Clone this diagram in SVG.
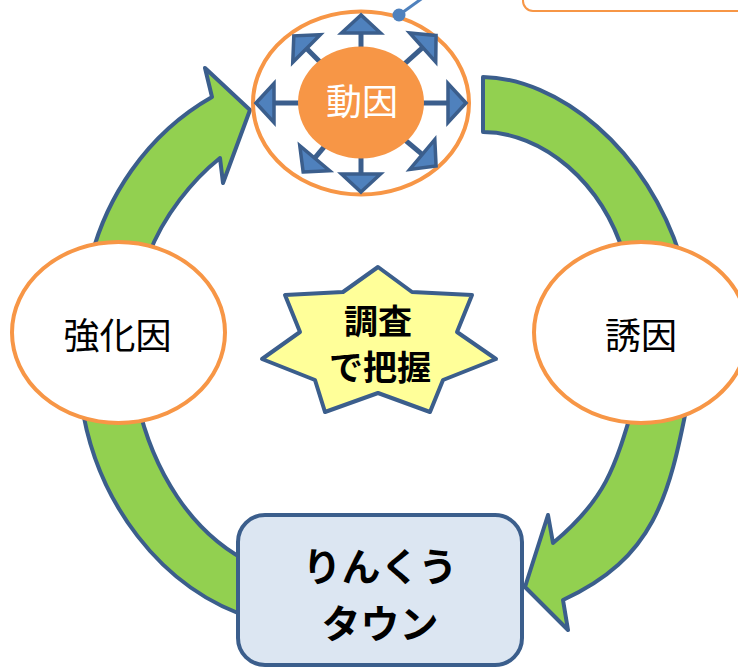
<svg xmlns="http://www.w3.org/2000/svg" width="738" height="668" viewBox="0 0 738 668">
<style>
.green{fill:#92D050;stroke:#3B5E8C;stroke-width:4;stroke-linejoin:round}
.oval{fill:#FFFFFF;stroke:#F79646;stroke-width:4}
.sa line{stroke:#3B5E8C;stroke-width:5}
.sa polygon{fill:#4F81BD;stroke:#3B5E8C;stroke-width:3.5;stroke-linejoin:miter}
.lbl{font-family:"Noto Sans CJK JP","Noto Sans",sans-serif;text-anchor:middle}
</style>
<rect width="738" height="668" fill="#FFFFFF"/>
<g id="callout-box">
<rect x="523" y="-30" width="240" height="41" rx="10" fill="#FFFFFF" stroke="#F79646" stroke-width="2"/>
</g>
<g id="connectors">
<path class="green" d="M90,262 C105,200 145,135 212,97 L205,68 L250,110 L223,183 L220,158 C195,178 162,215 146,262 Z"/>
<path class="green" d="M483,77 C555,78 648,145 683,265 L627,265 C605,180 540,132 483,132 Z"/>
<path class="green" d="M688,400 C669,498 654,558 563,600 L568,630 L525,587 L548,515 L553,543 C607,498 615,467 635,400 Z"/>
<path class="green" d="M81,400 C95,500 160,590 255,619 L255,565 C190,535 152,468 137,400 Z"/>
</g>
<g id="node-douin">
<ellipse class="oval" cx="361" cy="103" rx="108" ry="91.5"/>
<g class="sa" transform="translate(361,103) rotate(-90)"><line x1="40" y1="0" x2="71" y2="0"/><polygon points="88,0 70,-19.5 70,19.5"/></g>
<g class="sa" transform="translate(361,103) rotate(0)"><line x1="40" y1="0" x2="88" y2="0"/><polygon points="105,0 87,-19.5 87,19.5"/></g>
<g class="sa" transform="translate(361,103) rotate(90)"><line x1="40" y1="0" x2="72" y2="0"/><polygon points="89,0 71,-19.5 71,19.5"/></g>
<g class="sa" transform="translate(361,103) rotate(180)"><line x1="40" y1="0" x2="88" y2="0"/><polygon points="105,0 87,-19.5 87,19.5"/></g>
<g class="sa" transform="translate(361,103) rotate(-42)"><line x1="40" y1="0" x2="84" y2="0"/><polygon points="101,0 83,-19.5 83,19.5"/></g>
<g class="sa" transform="translate(361,103) rotate(-135)"><line x1="40" y1="0" x2="78" y2="0"/><polygon points="95,0 77,-19.5 77,19.5"/></g>
<g class="sa" transform="translate(361,103) rotate(40)"><line x1="40" y1="0" x2="81" y2="0"/><polygon points="98,0 80,-19.5 80,19.5"/></g>
<g class="sa" transform="translate(361,103) rotate(130)"><line x1="40" y1="0" x2="73" y2="0"/><polygon points="90,0 72,-19.5 72,19.5"/></g>
<ellipse cx="361" cy="102.5" rx="63" ry="56" fill="#F79646"/>
<text class="lbl" x="362" y="114.5" font-size="36" fill="#FFFFFF">動因</text>
</g>
<g id="node-kyoka">
<ellipse class="oval" cx="118.5" cy="332.5" rx="106.5" ry="90.5"/>
<text class="lbl" x="117.5" y="349" font-size="36" fill="#000000">強化因</text>
</g>
<g id="node-yuin">
<ellipse class="oval" cx="641" cy="332.5" rx="107" ry="90.5"/>
<text class="lbl" x="641" y="349" font-size="36" fill="#000000">誘因</text>
</g>
<g id="node-town">
<rect x="238" y="515" width="284" height="150" rx="27" fill="#DCE6F2" stroke="#3B5E8C" stroke-width="4"/>
<text class="lbl" x="380" y="581" font-size="39" font-weight="bold" fill="#000000">りんくう</text>
<text class="lbl" x="380" y="638" font-size="39" font-weight="bold" fill="#000000">タウン</text>
</g>
<g id="node-chosa">
<polygon points="378,267 412,292 472,295 457,332 496,359 443,380 430,412 378,393 325,412 315,380 262,359 300,332 285,295 343,292" fill="#FFFF99" stroke="#3B5E8C" stroke-width="4" stroke-linejoin="round"/>
<text class="lbl" x="378" y="334" font-size="34" font-weight="bold" fill="#000000">調査</text>
<text class="lbl" x="380" y="380" font-size="34" font-weight="bold" fill="#000000">で把握</text>
</g>
<g id="callout-line">
<line x1="399" y1="15" x2="424" y2="-3" stroke="#4F81BD" stroke-width="3"/>
<circle cx="399" cy="15" r="6.5" fill="#4F81BD"/>
</g>
</svg>
